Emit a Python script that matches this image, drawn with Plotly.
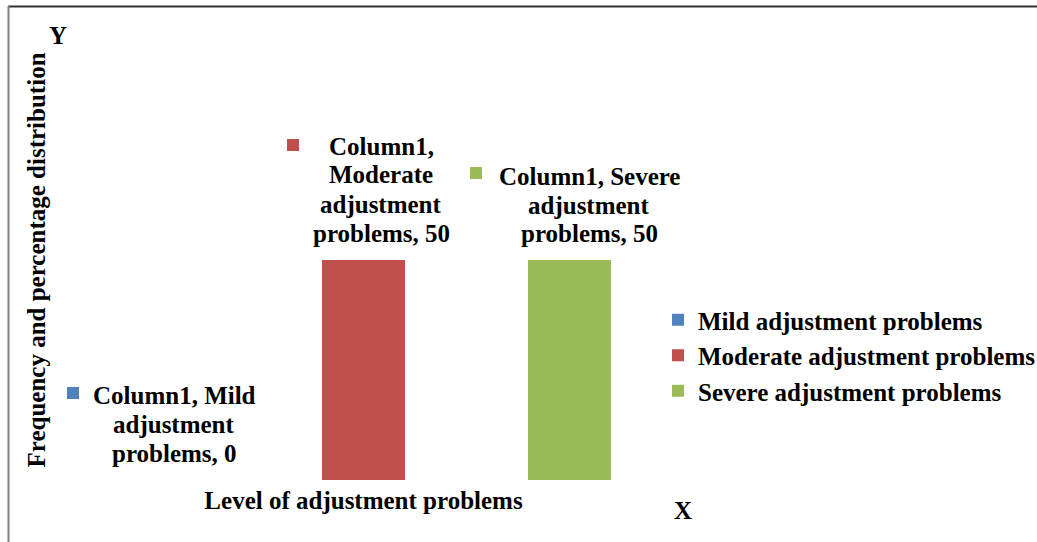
import plotly.graph_objects as go

# ---- data ----
category = "Column1"
series_names = ["Mild adjustment problems", "Moderate adjustment problems", "Severe adjustment problems"]
series_values = [0, 50, 50]
series_colors = ["#4F81BD", "#C0504D", "#9BBB59"]
x_title = "Level of adjustment problems"
y_title = "Frequency and percentage distribution"

W, H = 1037, 542
FONT = "Liberation Serif"
FS = 25


def px(x):
    return x / W


def py(y):
    return 1 - y / H


fig = go.Figure()
for name, val, col in zip(series_names, series_values, series_colors):
    fig.add_trace(go.Bar(
        x=[category], y=[val], name=name,
        marker=dict(color=col, line=dict(width=0)),
    ))

# data label layout (Excel-like, manually placed labels)
label_wrap = [[2, 1, 2], [1, 1, 1, 2], [2, 1, 2]]
label_center_x = [174, 381, 589]
label_first_y = [395, 146, 176]
label_key = [(67, 387), (287, 139), (470, 167)]
pitch = 29

annotations = []
shapes = []
for i, (name, val) in enumerate(zip(series_names, series_values)):
    words = f"{category}, {name}, {val}".split(" ")
    lines = []
    k = 0
    for n in label_wrap[i]:
        lines.append(" ".join(words[k:k + n]))
        k += n
    for j, ln in enumerate(lines):
        annotations.append(dict(
            x=px(label_center_x[i]), y=py(label_first_y[i] + j * pitch),
            xref="paper", yref="paper", text=ln, showarrow=False,
            xanchor="center", yanchor="middle",
            font=dict(family=FONT, size=FS, color="black", weight="bold"),
        ))
    kx, ky = label_key[i]
    shapes.append(dict(type="rect", xref="paper", yref="paper",
                       x0=px(kx), x1=px(kx + 12), y0=py(ky), y1=py(ky + 12),
                       fillcolor=series_colors[i], line=dict(width=0)))

annotations.append(dict(x=px(58), y=py(35), xref="paper", yref="paper", text="Y",
                        showarrow=False, xanchor="center", yanchor="middle",
                        font=dict(family=FONT, size=FS, color="black", weight="bold")))
annotations.append(dict(x=px(683), y=py(510), xref="paper", yref="paper", text="X",
                        showarrow=False, xanchor="center", yanchor="middle",
                        font=dict(family=FONT, size=FS, color="black", weight="bold")))

# chart border (top and left visible)
shapes.append(dict(type="line", xref="paper", yref="paper", x0=px(8), x1=1, y0=py(6.5), y1=py(6.5),
                   line=dict(color="#333333", width=2)))
shapes.append(dict(type="line", xref="paper", yref="paper", x0=px(8.5), x1=px(8.5), y0=py(6), y1=0,
                   line=dict(color="#808080", width=2)))

fig.update_layout(
    width=W, height=H, autosize=False,
    margin=dict(l=0, r=0, t=0, b=0, autoexpand=False),
    plot_bgcolor="white", paper_bgcolor="white",
    barmode="group", bargap=0, bargroupgap=1 - 83 / 206,
    xaxis=dict(domain=[px(54.5), px(672.5)], showticklabels=False, showgrid=False,
               zeroline=False, showline=False, ticks="", automargin=False,
               title=dict(text=x_title, standoff=11,
                          font=dict(family=FONT, size=FS, color="black", weight="bold"))),
    yaxis=dict(domain=[py(480), py(40)], range=[0, 100], showticklabels=False, showgrid=False,
               zeroline=False, showline=False, ticks="", automargin=False,
               title=dict(text=y_title, standoff=0,
                          font=dict(family=FONT, size=FS, color="black", weight="bold"))),
    legend=dict(x=px(658), y=py(297),
                xanchor="left", yanchor="top", bgcolor="rgba(0,0,0,0)",
                font=dict(family=FONT, size=FS, color="black", weight="bold"),
                traceorder="normal"),
    annotations=annotations,
    shapes=shapes,
    showlegend=True,
)

fig.write_html("out.html", config={"displayModeBar": False},
               post_script="document.body.style.margin='0px';")
